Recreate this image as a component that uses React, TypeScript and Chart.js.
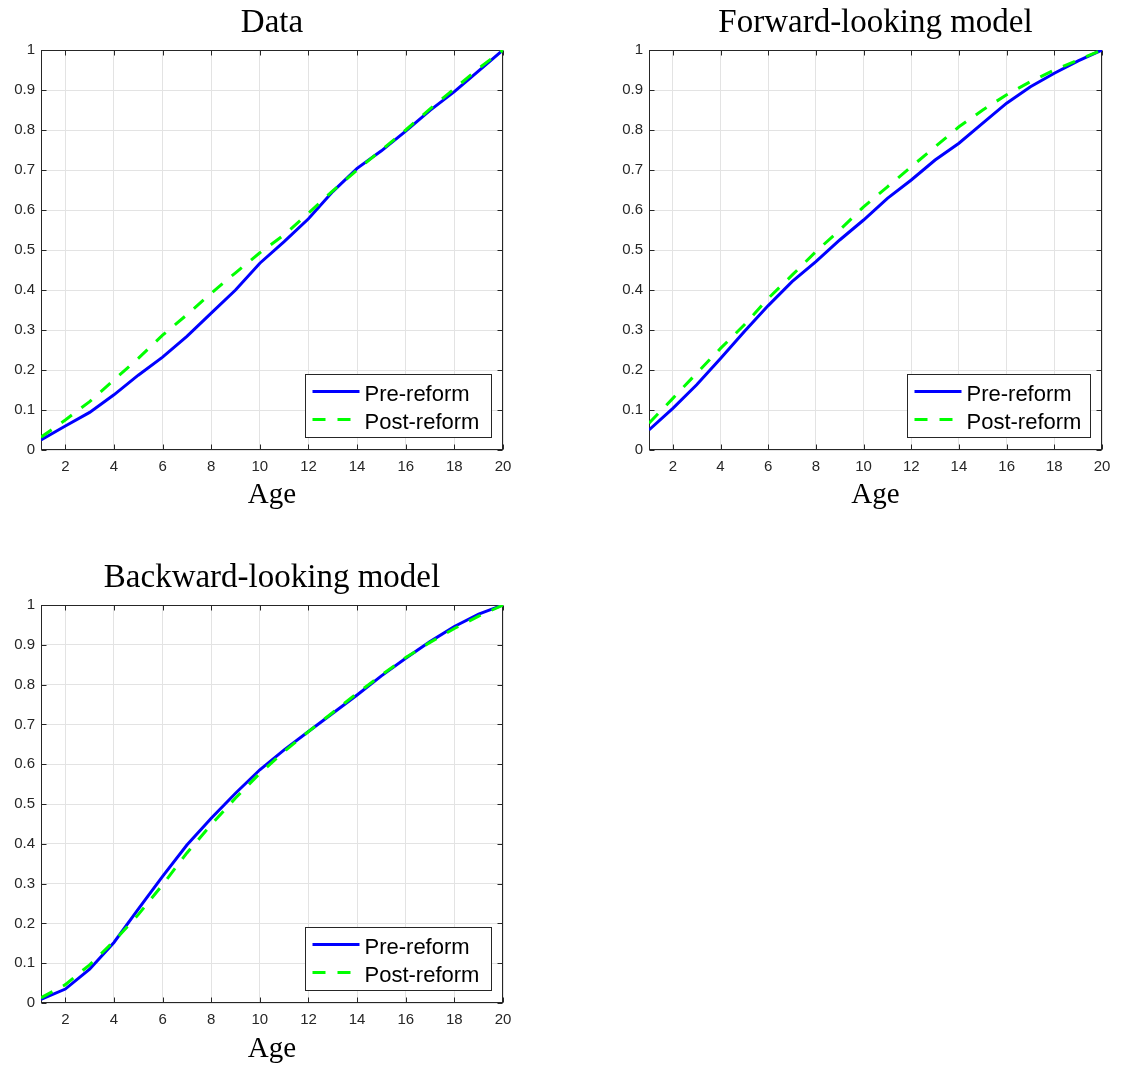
import React, { useEffect, useRef } from 'react';
import { Chart, registerables } from 'chart.js';

Chart.register(...registerables);

// ---------- data ----------
const ages = [1, 2, 3, 4, 5, 6, 7, 8, 9, 10, 11, 12, 13, 14, 15, 16, 17, 18, 19, 20];

const dataPre = [0.025, 0.06, 0.094, 0.138, 0.187, 0.232, 0.284, 0.342, 0.4, 0.467, 0.521, 0.578, 0.646, 0.704, 0.748, 0.797, 0.849, 0.896, 0.948, 1.0];
const dataPost = [0.032, 0.075, 0.121, 0.175, 0.229, 0.287, 0.338, 0.392, 0.443, 0.493, 0.538, 0.592, 0.648, 0.7, 0.75, 0.8, 0.853, 0.903, 0.954, 1.0];

const fwdPre = [0.05, 0.104, 0.163, 0.229, 0.296, 0.361, 0.421, 0.471, 0.525, 0.575, 0.629, 0.675, 0.725, 0.767, 0.817, 0.867, 0.908, 0.942, 0.973, 1.0];
const fwdPost = [0.067, 0.129, 0.192, 0.254, 0.313, 0.379, 0.437, 0.496, 0.55, 0.608, 0.658, 0.708, 0.758, 0.808, 0.85, 0.888, 0.921, 0.95, 0.975, 1.0];

const bwdPre = [0.009, 0.035, 0.085, 0.152, 0.236, 0.318, 0.397, 0.464, 0.527, 0.586, 0.636, 0.682, 0.728, 0.774, 0.822, 0.866, 0.908, 0.946, 0.977, 1.0];
const bwdPost = [0.013, 0.046, 0.096, 0.155, 0.222, 0.297, 0.377, 0.448, 0.515, 0.577, 0.632, 0.682, 0.73, 0.778, 0.824, 0.868, 0.906, 0.941, 0.972, 1.0];

const xTickValues = [2, 4, 6, 8, 10, 12, 14, 16, 18, 20];
const yTickValues = [0, 0.1, 0.2, 0.3, 0.4, 0.5, 0.6, 0.7, 0.8, 0.9, 1];

const seriesLabels = ['Pre-reform', 'Post-reform'];
const panelTitles = ['Data', 'Forward-looking model', 'Backward-looking model'];
const xAxisLabel = 'Age';

// ---------- styling ----------
const AXIS_COLOR = '#262626';
const GRID_COLOR = '#e3e3e3';
const PRE_COLOR = '#0000ff';
const POST_COLOR = '#00ff00';
const SERIF = '"Liberation Serif", "DejaVu Serif", serif';
const SANS = '"Liberation Sans", Arial, sans-serif';

const boxPlugin = {
  id: 'matlabBox',
  beforeDatasetsDraw(chart: any) {
    const { ctx, chartArea, scales } = chart;
    const l = Math.round(chartArea.left) + 0.5;
    const r = Math.round(chartArea.right) - 0.5;
    const t = Math.round(chartArea.top) + 0.5;
    const b = Math.round(chartArea.bottom) - 0.5;
    const L = 5;
    ctx.save();
    ctx.strokeStyle = AXIS_COLOR;
    ctx.lineWidth = 1;
    ctx.beginPath();
    scales.x.ticks.forEach((tk: any) => {
      const px = Math.round(scales.x.getPixelForValue(tk.value)) + 0.5;
      ctx.moveTo(px, b);
      ctx.lineTo(px, b - L);
      ctx.moveTo(px, t);
      ctx.lineTo(px, t + L);
    });
    scales.y.ticks.forEach((tk: any) => {
      const py = Math.round(scales.y.getPixelForValue(tk.value)) + 0.5;
      ctx.moveTo(l, py);
      ctx.lineTo(l + L, py);
      ctx.moveTo(r, py);
      ctx.lineTo(r - L, py);
    });
    ctx.stroke();
    ctx.strokeRect(l, t, r - l, b - t);
    ctx.restore();
  },
};

const insetLegendPlugin = {
  id: 'insetLegend',
  afterDatasetsDraw(chart: any, _args: any, opts: any) {
    const { ctx, chartArea } = chart;
    const w = opts.width || 186;
    const h = 63;
    const x0 = Math.round(chartArea.right - 12 - w) + 0.5;
    const y0 = Math.round(chartArea.bottom - 13 - h) + 0.5;
    ctx.save();
    ctx.fillStyle = '#ffffff';
    ctx.fillRect(x0, y0, w, h);
    ctx.strokeStyle = AXIS_COLOR;
    ctx.lineWidth = 1;
    ctx.strokeRect(x0, y0, w, h);
    const datasets = chart.data.datasets;
    datasets.forEach((ds: any, i: number) => {
      const ly = y0 + 17 + i * 28;
      ctx.beginPath();
      ctx.strokeStyle = ds.borderColor;
      ctx.lineWidth = 3;
      ctx.setLineDash(ds.borderDash || []);
      ctx.moveTo(x0 + 7, ly);
      ctx.lineTo(x0 + 54, ly);
      ctx.stroke();
      ctx.setLineDash([]);
      ctx.fillStyle = '#000000';
      ctx.font = `22px ${SANS}`;
      ctx.textBaseline = 'alphabetic';
      ctx.textAlign = 'left';
      ctx.fillText(ds.label, x0 + 59, y0 + 26.5 + i * 27.5);
    });
    ctx.restore();
  },
};

type PanelProps = {
  title: string;
  pre: number[];
  post: number[];
  left: number;
  top: number;
  width: number;
  height: number;
  yWidth: number;
  xHeight: number;
  padRight: number;
  titlePadTop: number;
  titlePadBottom: number;
  agePad: number;
  legendWidth: number;
};

function Panel(p: PanelProps) {
  const ref = useRef<HTMLCanvasElement | null>(null);
  useEffect(() => {
    if (!ref.current) return;
    const chart = new Chart(ref.current, {
      type: 'line',
      data: {
        datasets: [
          {
            label: seriesLabels[0],
            data: ages.map((a, i) => ({ x: a, y: p.pre[i] })),
            borderColor: PRE_COLOR,
            backgroundColor: PRE_COLOR,
            borderWidth: 3,
            pointRadius: 0,
            tension: 0,
            fill: false,
            order: 1,
          },
          {
            label: seriesLabels[1],
            data: ages.map((a, i) => ({ x: a, y: p.post[i] })),
            borderColor: POST_COLOR,
            backgroundColor: POST_COLOR,
            borderWidth: 3,
            borderDash: [13, 12],
            pointRadius: 0,
            tension: 0,
            fill: false,
            order: 0,
          },
        ],
      },
      options: {
        animation: false,
        responsive: false,
        devicePixelRatio: 1,
        layout: { padding: { left: 0, right: p.padRight, top: 0, bottom: 0 } },
        plugins: {
          legend: { display: false },
          tooltip: { enabled: false },
          title: {
            display: true,
            fullSize: false,
            text: p.title,
            color: '#000000',
            font: { family: SERIF, size: 33, weight: 'normal', lineHeight: 1.2 },
            padding: { top: p.titlePadTop, bottom: p.titlePadBottom },
          },
          insetLegend: { width: p.legendWidth },
        } as any,
        scales: {
          x: {
            type: 'linear',
            min: 1,
            max: 20,
            afterBuildTicks: (s: any) => {
              s.ticks = xTickValues.map((v) => ({ value: v }));
            },
            afterFit: (s: any) => {
              s.height = p.xHeight;
            },
            ticks: {
              color: AXIS_COLOR,
              font: { family: SANS, size: 15 },
              padding: 8,
              maxRotation: 0,
              autoSkip: false,
              callback: (v: any) => String(v),
            },
            grid: { color: GRID_COLOR, lineWidth: 1, drawTicks: false },
            border: { display: false },
            title: {
              display: true,
              text: xAxisLabel,
              color: '#000000',
              font: { family: SERIF, size: 29, weight: 'normal', lineHeight: 1.2 },
              padding: { top: 0, bottom: p.agePad },
            },
          },
          y: {
            type: 'linear',
            min: 0,
            max: 1,
            afterBuildTicks: (s: any) => {
              s.ticks = yTickValues.map((v) => ({ value: v }));
            },
            afterFit: (s: any) => {
              s.width = p.yWidth;
            },
            ticks: {
              color: AXIS_COLOR,
              font: { family: SANS, size: 15 },
              padding: 6,
              autoSkip: false,
              callback: (v: any) => String(v),
            },
            grid: { color: GRID_COLOR, lineWidth: 1, drawTicks: false },
            border: { display: false },
          },
        },
      } as any,
      plugins: [boxPlugin, insetLegendPlugin],
    });
    return () => chart.destroy();
  }, []);
  return (
    <canvas
      ref={ref}
      width={p.width}
      height={p.height}
      style={{ position: 'absolute', left: p.left, top: p.top, width: p.width, height: p.height }}
    />
  );
}

export default function App() {
  return (
    <div style={{ position: 'absolute', left: 0, top: 0, width: 1134, height: 1067, background: '#ffffff', overflow: 'hidden' }}>
      <Panel
        title={panelTitles[0]}
        pre={dataPre}
        post={dataPost}
        left={0}
        top={0}
        width={560}
        height={520}
        yWidth={41}
        xHeight={70}
        padRight={57}
        titlePadTop={4}
        titlePadBottom={6.4}
        agePad={7}
        legendWidth={186}
      />
      <Panel
        title={panelTitles[1]}
        pre={fwdPre}
        post={fwdPost}
        left={600}
        top={0}
        width={534}
        height={520}
        yWidth={49}
        xHeight={70}
        padRight={32}
        titlePadTop={4}
        titlePadBottom={6.4}
        agePad={7}
        legendWidth={183}
      />
      <Panel
        title={panelTitles[2]}
        pre={bwdPre}
        post={bwdPost}
        left={0}
        top={555}
        width={560}
        height={512}
        yWidth={41}
        xHeight={64}
        padRight={57}
        titlePadTop={4}
        titlePadBottom={6.4}
        agePad={0}
        legendWidth={186}
      />
    </div>
  );
}
